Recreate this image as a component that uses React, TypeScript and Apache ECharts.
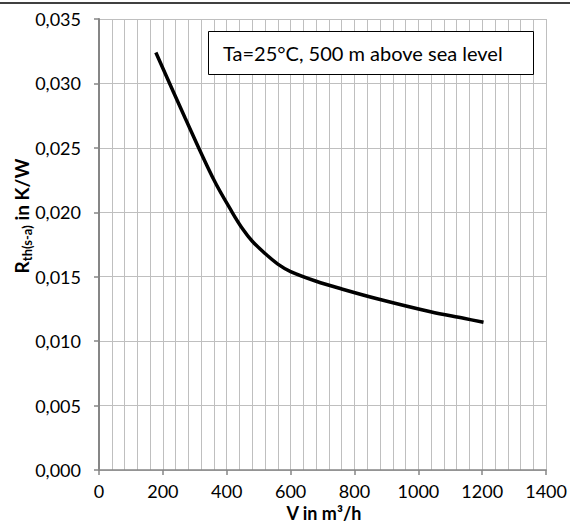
import React, { useEffect, useRef } from "react";
import * as echarts from "echarts";

const flowRates = [178, 270, 360, 417, 450, 480, 520, 560, 600, 680, 760, 874, 1038, 1142, 1204];
const resistance = [0.0324, 0.0273, 0.0225, 0.02, 0.0187, 0.01775, 0.0168, 0.01598, 0.0154, 0.01465, 0.01405, 0.01327, 0.01228, 0.01177, 0.01146];
const xTicks = { min: 0, max: 1400, interval: 200 };
const yTicks = { min: 0, max: 0.035, interval: 0.005 };
const noteText = "Ta=25°C, 500 m above sea level";
const xTitle = "V in m³/h";

const FONT = "Lato, 'Open Sans', sans-serif";

export default function App() {
  const ref = useRef<HTMLDivElement>(null);
  useEffect(() => {
    document.body.style.margin = "0";
    const chart = echarts.init(ref.current!, null, { renderer: "svg" });
    const data = flowRates.map((v, i) => [v, resistance[i]]);
    chart.setOption({
      animation: false,
      backgroundColor: "#ffffff",
      textStyle: { fontFamily: FONT },
      grid: { left: 99, right: 21, top: 19, bottom: 54, containLabel: false },
      xAxis: {
        type: "value",
        min: xTicks.min,
        max: xTicks.max,
        interval: xTicks.interval,
        axisLine: { show: true, lineStyle: { color: "#868686", width: 1.5 } },
        axisTick: { show: true, inside: false, length: 5, lineStyle: { color: "#868686", width: 1.5 } },
        minorTick: { show: false, splitNumber: 5 },
        splitLine: { show: true, lineStyle: { color: "#bfbfbf", width: 1 } },
        minorSplitLine: { show: true, lineStyle: { color: "#bfbfbf", width: 1 } },
        axisLabel: {
          color: "#000",
          fontSize: 18,
          fontFamily: FONT,
          margin: 12,
          lineHeight: 18,
          formatter: (v: number) => String(v),
        },
      },
      yAxis: {
        type: "value",
        min: yTicks.min,
        max: yTicks.max,
        interval: yTicks.interval,
        axisLine: { show: true, lineStyle: { color: "#868686", width: 2 } },
        axisTick: { show: true, inside: false, length: 5, lineStyle: { color: "#868686", width: 1.5 } },
        splitLine: { show: true, lineStyle: { color: "#bfbfbf", width: 1 } },
        axisLabel: {
          color: "#000",
          fontSize: 18,
          fontFamily: FONT,
          margin: 18,
          formatter: (v: number) => v.toFixed(3).replace(".", ","),
        },
      },
      series: [
        {
          type: "line",
          data,
          smooth: 0.35,
          showSymbol: false,
          symbol: "none",
          lineStyle: { color: "#000", width: 3.5 },
          z: 5,
        },
      ],
      graphic: [
        {
          type: "line",
          shape: { x1: 0, y1: 3, x2: 570, y2: 3 },
          style: { stroke: "#000", lineWidth: 1.5 },
        },
        {
          type: "rect",
          shape: { x: 208.5, y: 31.5, width: 325, height: 43 },
          style: { fill: "#fff", stroke: "#000", lineWidth: 1 },
          z: 10,
        },
        {
          type: "text",
          x: 223,
          y: 53,
          z: 11,
          style: {
            text: noteText,
            fill: "#000",
            font: `20px ${FONT}`,
            align: "left",
            verticalAlign: "middle",
          },
        },
        {
          type: "text",
          x: 324,
          y: 513,
          style: {
            text: xTitle,
            fill: "#000",
            font: `bold 18px ${FONT}`,
            lineHeight: 18,
            align: "center",
            verticalAlign: "middle",
          },
        },
        {
          type: "text",
          x: 21,
          y: 216,
          rotation: Math.PI / 2,
          style: {
            text: "{a|R}{s|th(s-a)}{a| in K/W}",
            fill: "#000",
            align: "center",
            verticalAlign: "middle",
            rich: {
              a: { fontSize: 19, fontWeight: "bold", fontFamily: FONT, lineHeight: 24, fill: "#000" },
              s: { fontSize: 13, fontWeight: "bold", fontFamily: FONT, lineHeight: 13, verticalAlign: "bottom", fill: "#000" },
            },
          },
        },
      ],
    });
    return () => chart.dispose();
  }, []);
  return <div ref={ref} style={{ width: 570, height: 524 }} />;
}
